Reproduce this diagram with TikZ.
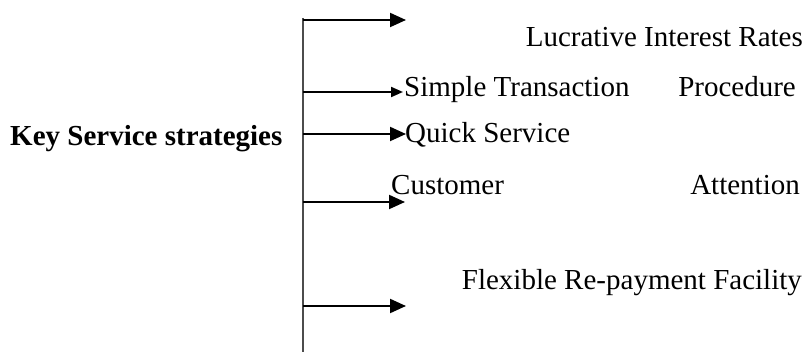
\documentclass[tikz,border=0pt]{standalone}
\usepackage{fontspec}
\setmainfont{Liberation Serif}
\usetikzlibrary{arrows.meta}

\tikzset{
  label text/.style={anchor=base west, inner sep=0pt, font=\fontsize{29}{34}\selectfont},
  trunk/.style={line width=1.5pt, draw=black!70},
  branch/.style={line width=2pt, -{Triangle[length=16pt,width=14pt]}},
  small branch/.style={line width=2pt, -{Triangle[length=12pt,width=10pt]}}
}

\begin{document}
\begin{tikzpicture}[x=1pt,y=-1pt]
  \useasboundingbox (0,0) rectangle (805,352);

  % heading
  \node[label text, font=\fontsize{29}{34}\selectfont\bfseries] (head) at (10,146) {Key Service strategies};

  % trunk line
  \coordinate (top) at (303,18);
  \coordinate (bottom) at (303,352);
  \draw[trunk] (top) -- (bottom);

  % branch points on the trunk and arrow tips
  \coordinate (b1) at (303,20);   \coordinate (t1) at (406,20);
  \coordinate (b2) at (303,92);   \coordinate (t2) at (403,92);
  \coordinate (b3) at (303,134);  \coordinate (t3) at (406,134);
  \coordinate (b4) at (303,202);  \coordinate (t4) at (405,202);
  \coordinate (b5) at (303,306);  \coordinate (t5) at (406,306);

  \draw[branch] (b1) -- (t1);
  \draw[small branch] (b2) -- (t2);
  \draw[branch] (b3) -- (t3);
  \draw[branch] (b4) -- (t4);
  \draw[branch] (b5) -- (t5);

  % strategy labels
  \node[label text, anchor=base east] (lucr) at (803,47) {Lucrative Interest Rates};
  \node[label text] (simple) at (404,97) {Simple Transaction};
  \node[label text, anchor=base east] (proc) at (796,97) {Procedure};
  \node[label text] (quick) at (405,143) {Quick Service};
  \node[label text] (cust) at (391,195) {Customer};
  \node[label text, anchor=base east] (attn) at (800,195) {Attention};
  \node[label text, anchor=base east] (flex) at (802,290) {Flexible Re-payment Facility};
\end{tikzpicture}
\end{document}
